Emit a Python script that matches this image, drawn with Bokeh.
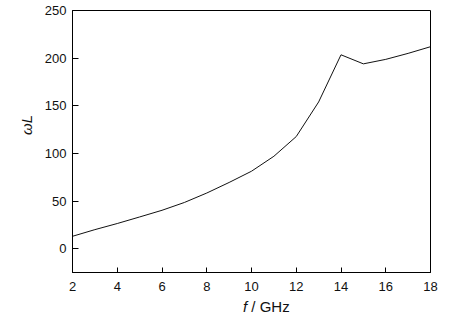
from bokeh.plotting import figure
from bokeh.models import Range1d, FixedTicker, Div
from bokeh.layouts import column, row
from bokeh.embed import file_html
from bokeh.resources import INLINE

freq_ghz = [2, 3, 4, 5, 6, 7, 8, 9, 10, 11, 12, 13, 14, 15, 16, 17, 18]
omega_l = [13.0, 20.0, 26.4, 33.3, 40.3, 48.5, 58.4, 69.5, 81.3, 97.0, 117.7, 154.0, 203.5, 194.0, 198.7, 205.0, 212.0]
x_ticks = [2, 4, 6, 8, 10, 12, 14, 16, 18]
y_ticks = [0, 50, 100, 150, 200, 250]

FONT = "Liberation Sans"
LEFT_W = 40

p = figure(width=462 - LEFT_W, height=296, output_backend="svg", toolbar_location=None,
           x_range=Range1d(2, 18), y_range=Range1d(-25, 250),
           min_border_left=72 - LEFT_W, min_border_right=32, min_border_top=10, min_border_bottom=24)

p.line(freq_ghz, omega_l, line_color="#111111", line_width=1)

p.grid.visible = False
p.outline_line_color = "black"
p.outline_line_width = 1
p.background_fill_color = "white"
p.border_fill_color = "white"

for ax, ticks in ((p.xaxis[0], x_ticks), (p.yaxis[0], y_ticks)):
    ax.ticker = FixedTicker(ticks=ticks)
    ax.axis_line_color = "black"
    ax.axis_line_width = 1
    ax.major_tick_in = 5
    ax.major_tick_out = 0
    ax.major_tick_line_color = "black"
    ax.minor_tick_line_color = None
    ax.major_label_text_font = FONT
    ax.major_label_text_font_size = "13px"
    ax.major_label_text_color = "#111111"

p.xaxis[0].major_label_standoff = 9
p.yaxis[0].major_label_standoff = 6
p.yaxis[0].major_tick_in = 6

# y-axis title (italic, rotated)
ylabel = Div(width=LEFT_W, height=296, margin=0,
             text='<div style="padding-top:115px">'
                  '<div style="margin-left:12px;width:30px;height:20px;line-height:20px;text-align:center;'
                  'transform:rotate(-90deg);font-family:\'Liberation Sans\';font-size:15px;'
                  'font-style:italic;color:#111111;white-space:nowrap">\u03c9L</div></div>')

# x-axis title with italic f
xlabel = Div(width=462 - LEFT_W, height=24, margin=0,
             text='<div style="padding-top:3px;padding-left:203px;line-height:15px;'
                  'font-family:\'Liberation Sans\';font-size:15px;color:#111111;white-space:nowrap">'
                  '<i>f</i> / GHz</div>')

layout = row(ylabel, column(p, xlabel, spacing=0), spacing=0)

open("out.html", "w").write(file_html(layout, INLINE))
